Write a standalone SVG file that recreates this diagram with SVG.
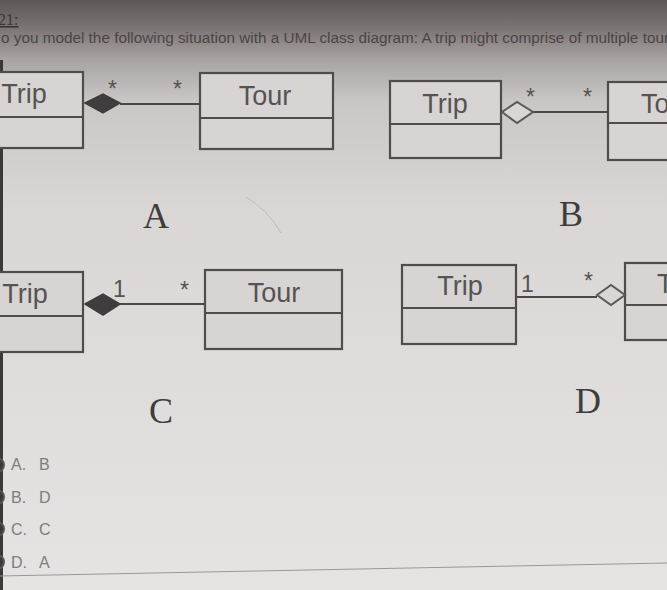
<svg xmlns="http://www.w3.org/2000/svg" width="667" height="590" viewBox="0 0 667 590">
<defs>
<linearGradient id="bg" x1="0" y1="0" x2="0" y2="1">
<stop offset="0" stop-color="#5d5757"/>
<stop offset="0.05" stop-color="#7c7676"/>
<stop offset="0.1" stop-color="#a8a3a3"/>
<stop offset="0.17" stop-color="#cac6c5"/>
<stop offset="0.35" stop-color="#d9d6d5"/>
<stop offset="1" stop-color="#e6e4e2"/>
</linearGradient>
<style>
.box{fill:#d7d4d3;stroke:#4e4c4c;stroke-width:2.2}
.div{stroke:#4e4c4c;stroke-width:2.2}
.cls{font-family:"Liberation Sans",Arial,sans-serif;font-size:27px;fill:#555353;text-anchor:middle}
.clss{font-family:"Liberation Sans",Arial,sans-serif;font-size:27px;fill:#555353;text-anchor:start}
.mult{font-family:"Liberation Sans",Arial,sans-serif;font-size:23px;fill:#555353}
.line{stroke:#4a4848;stroke-width:2;fill:none}
.filled{fill:#3f3d3d;stroke:#3f3d3d;stroke-width:1.5}
.hollow{fill:#d9d6d5;stroke:#5a5858;stroke-width:2}
.big{font-family:"Liberation Serif","Times New Roman",serif;font-size:36px;fill:#3e3c3c;text-anchor:middle}
.opt{font-family:"Liberation Sans",Arial,sans-serif;font-size:16px;fill:#7b7d82}
.radio{fill:none;stroke:#555;stroke-width:2}
</style>
</defs>
<rect width="667" height="590" fill="url(#bg)"/>
<rect x="0" y="60" width="3" height="530" fill="#3a3838"/>
<text x="-2" y="25" font-family="Liberation Serif,serif" font-size="16" fill="#3a3636" text-decoration="underline">21:</text>
<text x="1" y="43" font-family="Liberation Sans,Arial,sans-serif" font-size="14" fill="#4a4545" textLength="668" lengthAdjust="spacingAndGlyphs">o you model the following situation with a UML class diagram: A trip might comprise of multiple tour</text>

<g id="trip-a"><rect class="box" x="-10" y="72" width="93" height="76"/><line class="div" x1="-10" y1="117" x2="83" y2="117"/><text class="cls" x="24" y="103">Trip</text></g>
<g id="tour-a"><rect class="box" x="200" y="73" width="133" height="76"/><line class="div" x1="200" y1="118" x2="333" y2="118"/><text class="cls" x="265" y="105">Tour</text></g>
<g id="trip-b"><rect class="box" x="390" y="81" width="111" height="77"/><line class="div" x1="390" y1="124" x2="501" y2="124"/><text class="cls" x="445" y="113">Trip</text></g>
<g id="tour-b"><rect class="box" x="608" y="82" width="120" height="78"/><line class="div" x1="608" y1="123" x2="728" y2="123"/><text class="clss" x="641" y="113">Tour</text></g>
<g id="trip-c"><rect class="box" x="-10" y="272" width="93" height="80"/><line class="div" x1="-10" y1="316" x2="83" y2="316"/><text class="cls" x="25" y="303">Trip</text></g>
<g id="tour-c"><rect class="box" x="205" y="270" width="137" height="79"/><line class="div" x1="205" y1="313" x2="342" y2="313"/><text class="cls" x="274" y="302">Tour</text></g>
<g id="trip-d"><rect class="box" x="402" y="265" width="114" height="79"/><line class="div" x1="402" y1="308" x2="516" y2="308"/><text class="cls" x="460" y="295">Trip</text></g>
<g id="tour-d"><rect class="box" x="625" y="263" width="120" height="77"/><line class="div" x1="625" y1="305" x2="745" y2="305"/><text class="clss" x="657" y="293">Tour</text></g>

<g id="connectors">
<line class="line" x1="120" y1="104" x2="200" y2="104"/>
<polygon class="filled" points="85,103 103,94 120,103 103,113"/>
<line class="line" x1="533" y1="112" x2="608" y2="112"/>
<polygon class="hollow" points="502,112 517,102 533,112 517,123"/>
<line class="line" x1="120" y1="304" x2="205" y2="304"/>
<polygon class="filled" points="85,304 103,294 120,304 103,315"/>
<line class="line" x1="517" y1="297" x2="597" y2="297"/>
<polygon class="hollow" points="597,295 611,285 625,295 611,305"/>
</g>

<g id="multiplicities">
<text class="mult" x="108" y="97">*</text>
<text class="mult" x="173" y="97">*</text>
<text class="mult" x="526" y="105">*</text>
<text class="mult" x="583" y="105">*</text>
<text class="mult" x="113" y="297">1</text>
<text class="mult" x="180" y="298">*</text>
<text class="mult" x="521" y="292">1</text>
<text class="mult" x="584" y="289">*</text>
</g>

<g id="labels">
<text class="big" x="156" y="228">A</text>
<text class="big" x="571" y="226">B</text>
<text class="big" x="161" y="423">C</text>
<text class="big" x="588" y="413">D</text>
</g>

<path d="M246,197 Q268,210 281,233" stroke="#a8a6a6" stroke-width="1" fill="none" opacity="0.6"/>

<g id="options">
<circle class="radio" cx="-3" cy="465" r="7"/>
<circle class="radio" cx="-3" cy="497" r="7"/>
<circle class="radio" cx="-3" cy="529" r="7"/>
<circle class="radio" cx="-3" cy="562" r="7"/>
<text class="opt" x="11" y="470">A.<tspan x="39">B</tspan></text>
<text class="opt" x="11" y="503">B.<tspan x="39">D</tspan></text>
<text class="opt" x="11" y="535">C.<tspan x="39">C</tspan></text>
<text class="opt" x="11" y="568">D.<tspan x="39">A</tspan></text>
</g>
<line x1="0" y1="576" x2="667" y2="563" stroke="#9a9898" stroke-width="1"/>
</svg>
